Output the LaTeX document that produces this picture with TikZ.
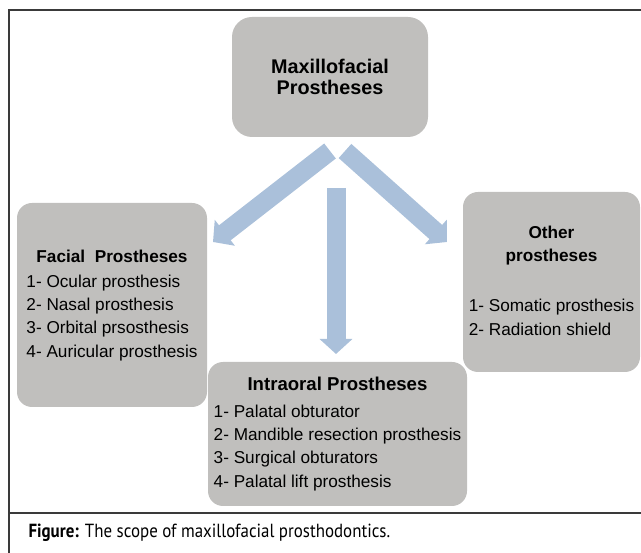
\documentclass[tikz,border=0pt]{standalone}
\usepackage{fontspec}
\setmainfont{Liberation Sans}
\newfontfamily\capfont[FakeStretch=0.89]{PT Sans}
\usepackage{xcolor}
\usepackage{tikz}
\usetikzlibrary{arrows.meta}
\definecolor{boxgray}{HTML}{C0BFBD}
\definecolor{arrowblue}{HTML}{AAC0DA}
\definecolor{framegray}{HTML}{3A3A3A}
\tikzstyle{category} = [rectangle, rounded corners=15pt, fill=boxgray, inner sep=0pt, font=\fontsize{17.2}{23.3}\selectfont]
\tikzstyle{rootbox} = [category, rounded corners=20pt, align=center, font=\fontsize{19.8}{21}\selectfont\bfseries]
\tikzstyle{bigarrow} = [line width=19pt, draw=arrowblue, -{Triangle[width=32pt,length=15pt,fill=arrowblue]}]
\tikzstyle{frameline} = [line width=2pt, draw=framegray]
\newcommand{\boxtitle}[1]{\multicolumn{1}{@{}c@{}}{\bfseries #1}}

\begin{document}
\begin{tikzpicture}[x=1pt, y=-1pt]
            \useasboundingbox (0,0) rectangle (641,553);
            \draw [frameline] (641,10) -- (9,10) -- (9,553);
            \draw [frameline] (9,513) -- (641,513);

            \node (maxfac) [rootbox, minimum width=196pt, minimum height=120pt] at (330,77) {Maxillofacial\\Prostheses};
            \node (facial) [category, minimum width=190pt, minimum height=204pt] at (112,305) {\begin{tabular}{@{}l@{}}
                \boxtitle{Facial\ \ Prostheses}\\[1.7pt]
                1- Ocular prosthesis\\
                2- Nasal prosthesis\\
                3- Orbital prsosthesis\\
                4- Auricular prosthesis
            \end{tabular}};
            \node (intra) [category, minimum width=259pt, minimum height=144pt] at (337.5,434) {\begin{tabular}{@{}l@{}}
                \boxtitle{\fontsize{18.6}{23.3}\selectfont Intraoral Prostheses}\\[3.5pt]
                1- Palatal obturator\\
                2- Mandible resection prosthesis\\
                3- Surgical obturators\\
                4- Palatal lift prosthesis
            \end{tabular}};
            \node (other) [category, minimum width=177pt, minimum height=180pt] at (551.5,282) {\begin{tabular}{@{}l@{}}
                \boxtitle{Other}\\
                \boxtitle{prostheses}\\
                \\[3.5pt]
                1- Somatic prosthesis\\
                2- Radiation shield
            \end{tabular}};
            \node (caption) [anchor=base west, font=\capfont\fontsize{19}{22}\selectfont] at (25,538) {\textbf{Figure:} The scope of maxillofacial prosthodontics.};

            \coordinate (lstart) at (330,151);
            \coordinate (ltip) at (213,242);
            \coordinate (rstart) at (345,151);
            \coordinate (rtip) at (447,242);
            \coordinate (dstart) at (336,188);
            \coordinate (dtip) at (336,354);
            \draw [bigarrow] (lstart) -- (ltip);
            \draw [bigarrow] (rstart) -- (rtip);
            \draw [bigarrow] (dstart) -- (dtip);
        \end{tikzpicture}
\end{document}
